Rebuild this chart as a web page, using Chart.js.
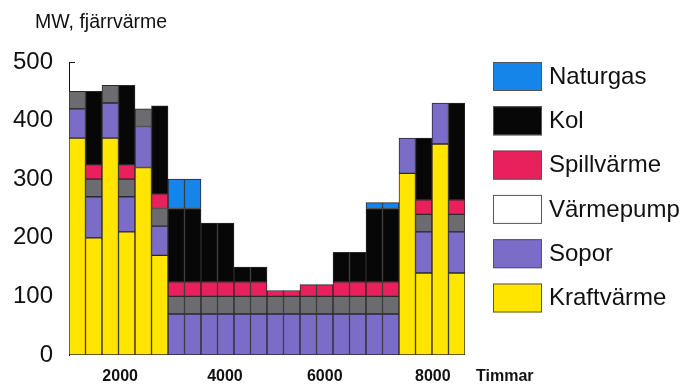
<!DOCTYPE html>
<html lang="sv">
<head>
<meta charset="UTF-8">
<title>MW, fjärrvärme</title>
<script src="https://cdn.jsdelivr.net/npm/chart.js"></script>
<style>
  html, body { margin: 0; padding: 0; background: #fff; }
  .wrap { width: 685px; height: 386px; position: relative; }
</style>
</head>
<body>
<div class="wrap"><canvas id="chart"></canvas></div>
<script>
// 24 halvmånader över året, effekt i MW per källa (null = ingen)
const periods = [1, 2, 3, 4, 5, 6, 7, 8, 9, 10, 11, 12, 13, 14, 15, 16, 17, 18, 19, 20, 21, 22, 23, 24];

const kraftvarme = [370, 200, 370, 210, 320, 170, null, null, null, null, null, null, null, null, null, null, null, null, null, null, 310, 140, 360, 140];
const sopor      = [50, 70, 60, 60, 70, 50, 70, 70, 70, 70, 70, 70, 70, 70, 70, 70, 70, 70, 70, 70, 60, 70, 70, 70];
const varmepump  = [30, 30, 30, 30, 30, 30, 30, 30, 30, 30, 30, 30, 30, 30, 30, 30, 30, 30, 30, 30, null, 30, null, 30];
const spillvarme = [null, 25, null, 25, null, 25, 25, 25, 25, 25, 25, 25, 10, 10, 20, 20, 25, 25, 25, 25, null, 25, null, 25];
const kol        = [null, 125, null, 135, null, 150, 125, 125, 100, 100, 25, 25, null, null, null, null, 50, 50, 125, 125, null, 105, null, 165];
const naturgas   = [null, null, null, null, null, null, 50, 50, null, null, null, null, null, null, null, null, null, null, 10, 10, null, null, null, null];

const seriesNames = ['Kraftvärme', 'Sopor', 'Värmepump', 'Spillvärme', 'Kol', 'Naturgas'];
const seriesValues = [kraftvarme, sopor, varmepump, spillvarme, kol, naturgas];

// x-axelns etiketter (timmar) och var de står, i halvmånader
const xTickLabels = ['2000', '4000', '6000', '8000'];
const xTickAt = [3.1, 9.45, 15.5, 22.05];
const yTicks = [0, 100, 200, 300, 400, 500];

const yTitle = 'MW, fjärrvärme';
const xUnit = 'Timmar';

const font = "'Liberation Sans', Arial, Helvetica, sans-serif";
const barColors = ['#ffe500', '#7b6cc8', '#6c6c70', '#e8205c', '#070707', '#1685ea'];
const legendColors = ['#ffe500', '#7b6cc8', '#ffffff', '#e8205c', '#070707', '#1685ea'];

Chart.defaults.font.family = font;
Chart.defaults.color = '#111';

const datasets = seriesNames.map((name, k) => ({
    label: name,
    data: seriesValues[k].map((v, i) => ({ x: periods[i] - 0.5, y: v })),
    backgroundColor: barColors[k],
    borderColor: '#2a2a2a',
    borderWidth: 1,
    borderSkipped: false,
    barPercentage: 1,
    categoryPercentage: 1
}));

// titel, enhet, toppstreck och teckenförklaring
const annotate = {
    id: 'annotate',
    afterDraw(chart) {
        const { ctx, chartArea, scales: { y } } = chart;
        ctx.save();
        const top = Math.round(y.getPixelForValue(500)) + 0.5;
        ctx.strokeStyle = '#111';
        ctx.lineWidth = 1;
        ctx.beginPath();
        ctx.moveTo(chartArea.left, top);
        ctx.lineTo(chartArea.left + 6, top);
        ctx.stroke();

        ctx.fillStyle = '#111';
        ctx.textAlign = 'left';
        ctx.textBaseline = 'alphabetic';
        ctx.font = '19.5px ' + font;
        ctx.fillText(yTitle, 35, 28);

        ctx.textBaseline = 'middle';
        ctx.font = 'bold 16px ' + font;
        ctx.fillText(xUnit, chartArea.right + 11, chartArea.bottom + 22);

        ctx.font = '24px ' + font;
        for (let k = seriesNames.length - 1, row = 0; k >= 0; k--, row++) {
            const by = 62 + row * 44.3;
            ctx.fillStyle = legendColors[k];
            ctx.fillRect(493, by, 49, 29);
            ctx.strokeStyle = '#555';
            ctx.strokeRect(493.5, by + 0.5, 48, 28);
            ctx.fillStyle = '#111';
            ctx.fillText(seriesNames[k], 549, by + 15);
        }
        ctx.restore();
    }
};

new Chart(document.getElementById('chart'), {
    type: 'bar',
    data: { datasets },
    options: {
        responsive: true,
        maintainAspectRatio: false,
        animation: false,
        layout: { padding: { top: 62, right: 220, bottom: 0, left: 0 } },
        plugins: {
            legend: { display: false },
            tooltip: { enabled: false }
        },
        scales: {
            x: {
                type: 'linear',
                stacked: true,
                min: 0,
                max: periods.length,
                offset: false,
                grid: { display: false, drawTicks: false },
                border: { display: false },
                afterBuildTicks: s => { s.ticks = xTickAt.map(v => ({ value: v })); },
                afterFit: s => { s.height = 31; },
                ticks: {
                    autoSkip: false,
                    maxRotation: 0,
                    padding: 12,
                    color: '#111',
                    font: { size: 16, weight: 'bold' },
                    callback: (v, i) => xTickLabels[i]
                }
            },
            y: {
                stacked: true,
                min: 0,
                max: 500,
                grid: { display: false, drawTicks: false },
                border: { display: true, color: '#111', width: 1 },
                afterBuildTicks: s => { s.ticks = yTicks.map(v => ({ value: v })); },
                afterFit: s => { s.width = 69; },
                ticks: { padding: 16, color: '#111', font: { size: 24 } }
            }
        }
    },
    plugins: [annotate]
});
</script>
</body>
</html>
